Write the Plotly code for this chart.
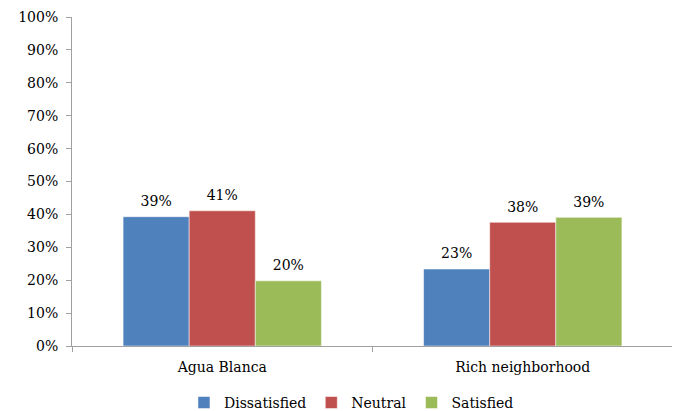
import plotly.graph_objects as go

categories = ["Agua Blanca", "Rich neighborhood"]
series_names = ["Dissatisfied", "Neutral", "Satisfied"]
dissatisfied = [39.3, 23.4]
neutral = [41.1, 37.6]
satisfied = [19.8, 39.1]
colors = ["#4F81BD", "#C0504D", "#9BBB59"]

FONT = "DejaVu Serif"

fig = go.Figure()
for name, vals, col in zip(series_names, [dissatisfied, neutral, satisfied], colors):
    fig.add_trace(go.Bar(
        x=categories, y=vals, name=name, offsetgroup=name,
        marker=dict(color=col, line=dict(color="white", width=0.5)),
    ))
# value labels sit a bit higher than plotly's default outside text
for name, vals in zip(series_names, [dissatisfied, neutral, satisfied]):
    fig.add_trace(go.Scatter(
        x=categories, y=vals, offsetgroup=name, mode="markers+text",
        marker=dict(size=10, opacity=0),
        text=[f"{round(v)}%" for v in vals], textposition="top center",
        textfont=dict(family=FONT, size=14, color="#000000"),
        showlegend=False, hoverinfo="skip", cliponaxis=False,
    ))

# page body has an 8px default margin, so the figure is a bit smaller than the window
fig.update_layout(
    width=672, height=403,
    margin=dict(l=64, r=7, t=9, b=65, autoexpand=False),
    plot_bgcolor="white", paper_bgcolor="white",
    barmode="group", bargap=0.34, bargroupgap=0,
    scattermode="group", scattergap=0.34,
    font=dict(family=FONT, size=14, color="#000000"),
    showlegend=True,
    legend=dict(orientation="h", x=0.465, xanchor="center", y=-0.173, yanchor="middle",
                font=dict(family=FONT, size=14), itemwidth=30, tracegroupgap=0),
)
fig.update_yaxes(
    range=[0, 100], dtick=10, ticksuffix="%", showgrid=False,
    showline=True, linecolor="#A0A0A0", linewidth=1,
    ticks="outside", ticklen=5, tickcolor="#A0A0A0", ticklabelstandoff=5,
    tickfont=dict(family=FONT, size=14), zeroline=False, automargin=False,
)
fig.update_xaxes(
    showline=True, linecolor="#A0A0A0", linewidth=1,
    ticks="outside", ticklen=5, tickcolor="#A0A0A0", tickson="boundaries",
    tickfont=dict(family=FONT, size=14), automargin=False, ticklabelstandoff=8,
)

fig.write_html("out.html")
